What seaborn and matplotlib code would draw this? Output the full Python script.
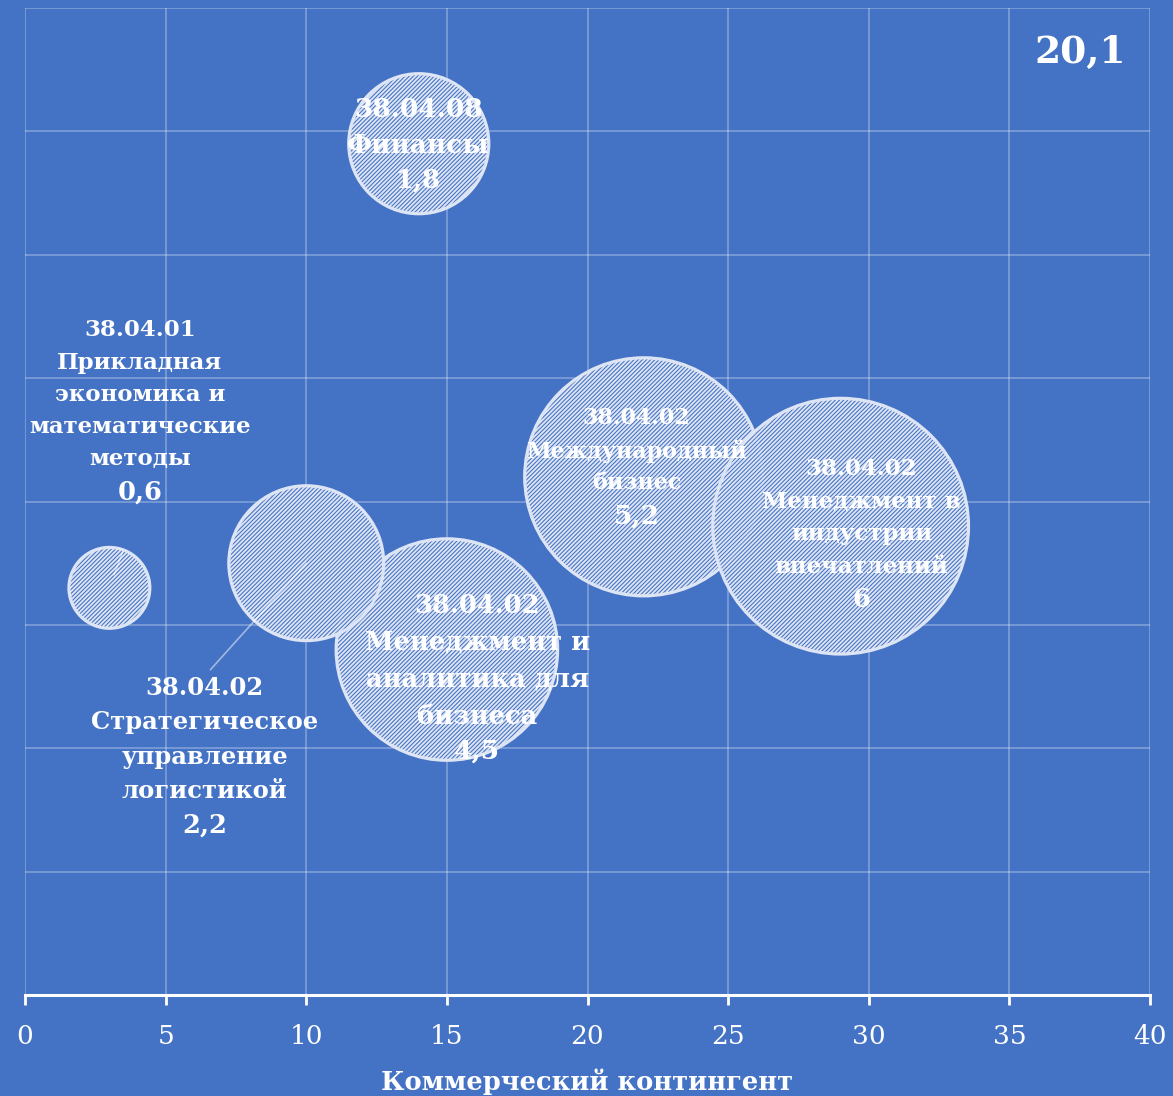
import pandas as pd
import matplotlib.pyplot as plt
import matplotlib.colors as mcolors
import seaborn as sns

# bubble data (x = commercial contingent, y = position on the chart, size = value)
codes = ['38.04.01', '38.04.08', '38.04.02', '38.04.02', '38.04.02', '38.04.02']
names = ['Прикладная\nэкономика и\nматематические\nметоды',
         'Финансы',
         'Менеджмент и\nаналитика для\nбизнеса',
         'Стратегическое\nуправление\nлогистикой',
         'Международный\nбизнес',
         'Менеджмент в\nиндустрии\nвпечатлений']
commercial = [3, 14, 15, 10, 22, 29]
position = [3.3, 6.9, 2.8, 3.5, 4.2, 3.8]
weight = [0.6, 1.8, 4.5, 2.2, 5.2, 6.0]
total_label = '20,1'
x_ticks = [0, 5, 10, 15, 20, 25, 30, 35, 40]

# label placement (offset of the name block from bubble centre, points) and font sizes
label_offset = [(22, 139), (0, 12), (22, -8), (-73, -127), (-5, 19), (15, 6)]
name_size = [16.5, 19, 18.5, 17.5, 16, 16.5]
value_size = [18.5, 18.5, 19, 18.5, 19, 18.5]
spacing = [1.6, 1.55, 1.6, 1.55, 1.55, 1.62]
leader = [True, False, False, True, False, False]

bg = '#4472C4'
light = '#dde5f4'
hatch_col = '#c9d7f0'

sns.set_style('white')
plt.rcParams['font.family'] = ['DejaVu Serif']
plt.rcParams['hatch.linewidth'] = 1.35

df = pd.DataFrame({'x': commercial, 'y': position, 'v': weight})

fig = plt.figure(figsize=(11.73, 10.96), dpi=100, facecolor=bg)
ax = fig.add_axes([25/1173, 101/1096, 1125/1173, 987/1096])
ax.set_facecolor(bg)

k = 5650
vmin, vmax = min(weight), max(weight)
sns.scatterplot(data=df, x='x', y='y', size='v', sizes=(k*vmin, k*vmax),
                size_norm=(vmin, vmax), legend=False,
                color=mcolors.to_rgba(bg, 0.85),
                edgecolor=light, linewidth=2.3, hatch='////////', ax=ax, zorder=3)
coll = ax.collections[0]
if hasattr(coll, 'set_hatchcolor'):
    coll.set_hatchcolor(hatch_col)
else:
    coll._hatch_color = mcolors.to_rgba(hatch_col)

ax.set_xlim(0, 40)
ax.set_ylim(0, 8)
ax.set_xticks(x_ticks)
ax.set_yticks(range(0, 9))
ax.set_yticklabels([])
ax.grid(True, color='white', alpha=0.35, linewidth=1.1)
for s in ['left', 'right', 'top']:
    ax.spines[s].set_visible(False)
ax.spines['bottom'].set_color('white')
ax.spines['bottom'].set_linewidth(2.2)
ax.spines['bottom'].set_zorder(5)
ax.tick_params(axis='x', bottom=True, direction='out', colors='white',
               length=7, width=2, labelsize=19, pad=14)
ax.tick_params(axis='y', left=False, length=0)
ax.set_xlabel('Коммерческий контингент', color='white', fontsize=18.5,
              fontweight='bold', labelpad=14)
ax.set_ylabel('')

for i in range(len(weight)):
    txt = codes[i] + '\n' + names[i]
    dx, dy = label_offset[i]
    t = ax.annotate(txt, xy=(commercial[i], position[i]), xytext=(dx, dy),
                    textcoords='offset points', ha='center', va='center',
                    color='white', fontsize=name_size[i], fontweight='bold',
                    linespacing=spacing[i], zorder=6)
    val = f'{weight[i]:g}'.replace('.', ',')
    tv = ax.annotate(val, xy=(0.5, 0), xycoords=t, xytext=(0, -16),
                     textcoords='offset points', ha='center', va='center',
                     color='white', fontsize=value_size[i], fontweight='bold', zorder=6)
    if leader[i]:
        # thin leader line from the label to the bubble
        src = tv if dy > 0 else t
        ax.annotate('', xy=(commercial[i], position[i]),
                    xytext=(0.5, 0 if dy > 0 else 1), textcoords=src,
                    arrowprops=dict(arrowstyle='-', color='white', alpha=0.5, lw=1.2,
                                    shrinkA=36 if dy > 0 else 6,
                                    shrinkB=10 if dy > 0 else 0), zorder=4)

fig.text(1080/1173, 1 - 52/1096, total_label, color='white', fontsize=27,
         fontweight='bold', ha='center', va='center')

fig.savefig('out.png', dpi=100, facecolor=bg)
